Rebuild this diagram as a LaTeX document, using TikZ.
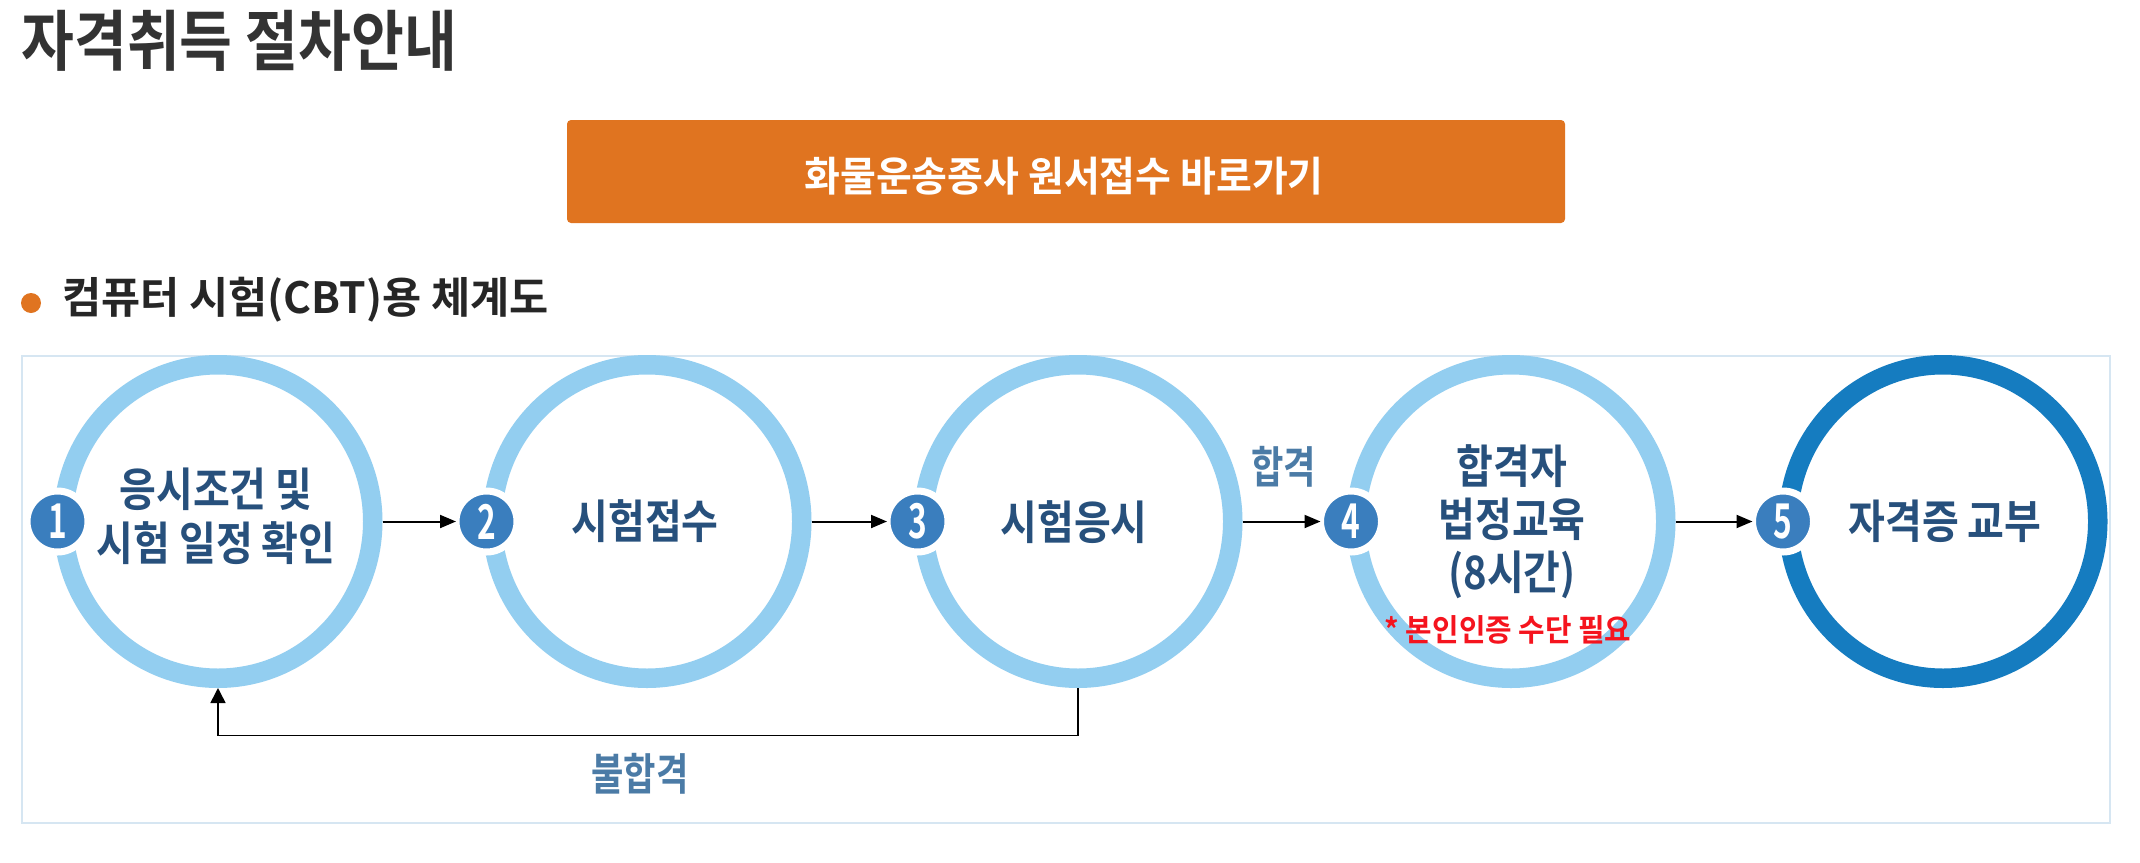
\documentclass[tikz,border=0pt]{standalone}
\usepackage{fontspec}
\usepackage{graphicx}
\setmainfont{Noto Sans CJK KR}[BoldFont={* Bold}]
\usetikzlibrary{shapes.geometric,arrows.meta}
\definecolor{orangebtn}{HTML}{E07420}
\definecolor{titlegray}{HTML}{333333}
\definecolor{ringlight}{HTML}{93CEF0}
\definecolor{ringdark}{HTML}{157CC0}
\definecolor{badgeblue}{HTML}{3A7EBE}
\definecolor{navytext}{HTML}{27507C}
\definecolor{labelblue}{HTML}{4B7BA6}
\definecolor{boxline}{HTML}{D6E6F2}
\definecolor{notered}{HTML}{F5141E}
\newcommand{\sx}[2]{\scalebox{#1}[1]{#2}}
\newcommand{\lines}[1]{\begin{tabular}{@{}c@{}}#1\end{tabular}}
\begin{document}
\begin{tikzpicture}[x=0.5pt,y=-0.5pt,
  ring/.style={ellipse, draw=ringlight, line width=9.75pt, minimum width=154.75pt, minimum height=156.75pt, inner sep=0pt},
  ringfinal/.style={ring, draw=ringdark},
  badge/.style={circle, fill=badgeblue, draw=white, line width=3.5pt, minimum size=30.5pt, inner sep=0pt, outer sep=0pt, text=white, font=\bfseries\fontsize{24}{24}\selectfont},
  steptext/.style={text=navytext, inner sep=0pt, align=center, font=\bfseries\fontsize{23}{24}\selectfont},
  flowlabel/.style={text=labelblue, inner sep=0pt, font=\bfseries\fontsize{22}{24}\selectfont},
  flow/.style={draw=black, line width=1pt, -{Triangle[length=8pt,width=6.5pt]}},
  backflow/.style={draw=black, line width=0.8pt, -{Triangle[length=7.5pt,width=7.5pt]}}
]
\useasboundingbox (0,0) rectangle (2140,862);
\fill[white] (0,0) rectangle (2140,862);

% heading
\node[anchor=west, inner sep=0pt, text=titlegray, font=\bfseries\fontsize{33}{36}\selectfont] (title) at (21,40.5) {\sx{0.87}{자격취득 절차안내}};

% button
\node[fill=orangebtn, rounded corners=2pt, minimum width=499pt, minimum height=51.5pt, inner sep=0pt] (btn) at (1066,171.5) {};
\node[text=white, inner sep=0pt, font=\bfseries\fontsize{20.5}{24}\selectfont] (btntext) at (1064,176) {\sx{0.95}{화물운송종사 원서접수 바로가기}};

% subtitle
\node[circle, fill=orangebtn, minimum size=10pt, inner sep=0pt] (bullet) at (31,303) {};
\node[anchor=west, inner sep=0pt, text=black!85, font=\bfseries\fontsize{21.5}{24}\selectfont] (subtitle) at (62,300) {\sx{0.99}{컴퓨터 시험(CBT)용 체계도}};

% frame
\draw[boxline, line width=1pt] (22,356) rectangle (2110,823);

% rings
\node[ring] (s1) at (218,521.5) {};
\node[ring] (s2) at (647,521.5) {};
\node[ring] (s3) at (1078,521.5) {};
\node[ring] (s4) at (1511,521.5) {};
\node[ringfinal] (s5) at (1943,521.5) {};

% badges
\node[badge] (b1) at (57.5,521.5) {\sx{0.66}{1}};
\node[badge] (b2) at (486.5,521.5) {\sx{0.66}{2}};
\node[badge] (b3) at (917.5,521.5) {\sx{0.66}{3}};
\node[badge] (b4) at (1351,521.5) {\sx{0.66}{4}};
\node[badge] (b5) at (1783,521.5) {\sx{0.66}{5}};

% step texts
\node[steptext] (t1) at (216,521.5) {\sx{0.87}{\lines{응시조건 및\\시험 일정 확인}}};
\node[steptext] (t2) at (645,521) {\sx{0.87}{시험접수}};
\node[steptext] (t3) at (1074,522) {\sx{0.87}{시험응시}};
\node[steptext] (t4) at (1512,524.5) {\sx{0.87}{\lines{합격자\\법정교육\\(8시간)}}};
\node[text=notered, inner sep=0pt, font=\bfseries\fontsize{15.5}{17}\selectfont] (note) at (1508,630) {\sx{0.93}{* 본인인증 수단 필요}};
\node[steptext] (t5) at (1945,521) {\sx{0.87}{자격증 교부}};

% connectors
\draw[flow] (s1) -- (b2);
\draw[flow] (s2) -- (b3);
\draw[flow] (s3) -- (b4);
\draw[flow] (s4) -- (b5);
\draw[backflow] (s3.south) -- ++(0,47.5) -| (s1.south);

% labels
\node[flowlabel] (pass) at (1283.5,467) {\sx{0.8}{합격}};
\node[flowlabel] (fail) at (640,774) {\sx{0.8}{불합격}};
\end{tikzpicture}
\end{document}
